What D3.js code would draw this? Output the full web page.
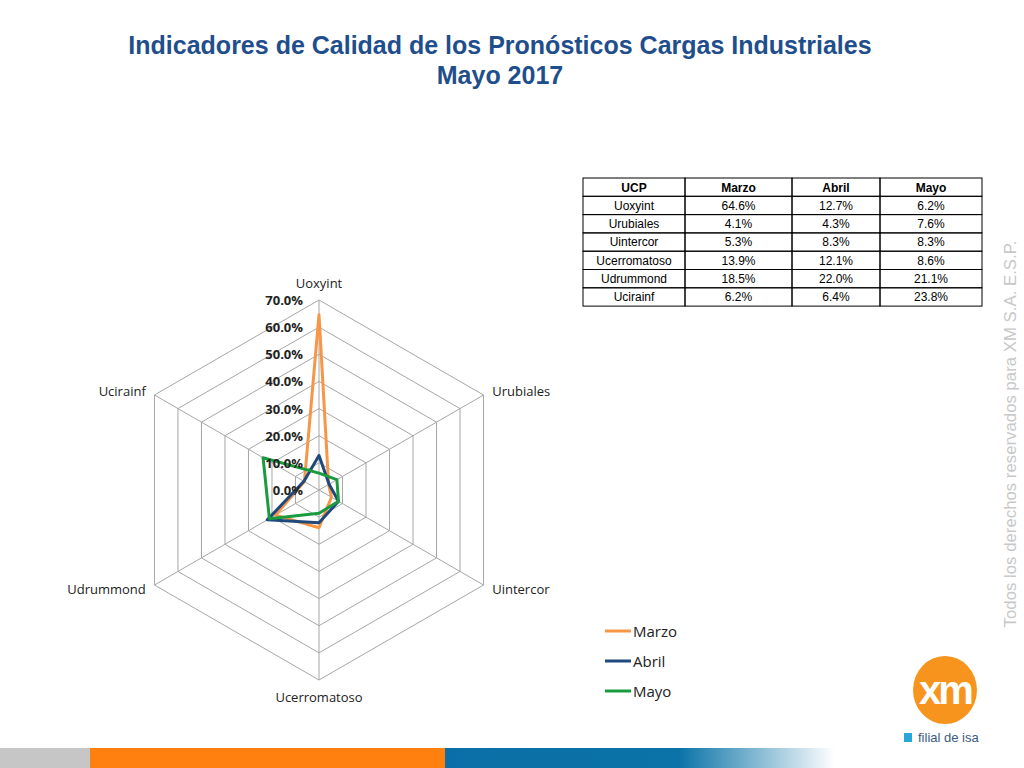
<!DOCTYPE html>
<html><head><meta charset="utf-8">
<script src="https://cdn.jsdelivr.net/npm/d3@7"></script>
<style>body{margin:0;background:#fff}svg{display:block}</style>
</head><body><div id="graphic"></div>
<script>
(function(d3){
  let width = 1024, height = 768;

  // Data
  let categories = ['Uoxyint', 'Urubiales', 'Uintercor', 'Ucerromatoso', 'Udrummond', 'Ucirainf'];
  let marzo = [0.646, 0.041, 0.053, 0.139, 0.185, 0.062];
  let abril = [0.127, 0.043, 0.083, 0.121, 0.220, 0.064];
  let mayo  = [0.062, 0.076, 0.083, 0.086, 0.211, 0.238];
  let seriesNames = ['Marzo', 'Abril', 'Mayo'];
  let seriesColors = ['#f79646', '#1f497d', '#1a9c3e'];
  let ticks = [0, 0.1, 0.2, 0.3, 0.4, 0.5, 0.6, 0.7];

  let allSeries = [marzo, abril, mayo];
  let svg = d3.select('#graphic').append('svg').attr('width', width).attr('height', height);

  // Title
  svg.append('text').attr('x', 500).attr('y', 54).attr('text-anchor', 'middle')
    .attr('font-family', 'Liberation Sans, Arial').attr('font-weight', 'bold').attr('font-size', 25)
    .attr('fill', '#1f4e8c').text('Indicadores de Calidad de los Pronósticos Cargas Industriales');
  svg.append('text').attr('x', 500).attr('y', 84).attr('text-anchor', 'middle')
    .attr('font-family', 'Liberation Sans, Arial').attr('font-weight', 'bold').attr('font-size', 25)
    .attr('fill', '#1f4e8c').text('Mayo 2017');

  // Radar
  let cx = 319, cy = 490;
  let r = d3.scaleLinear().domain([0, 0.7]).range([0, 190]);
  let angle = i => i * Math.PI / 3 - Math.PI / 2;
  let pt = (v, i) => [cx + r(v) * Math.cos(angle(i)), cy + r(v) * Math.sin(angle(i))];
  let g = svg.append('g');

  ticks.slice(1).forEach(t => {
    g.append('path').attr('d', d3.line()(categories.map((c, i) => pt(t, i))) + 'Z')
      .attr('fill', 'none').attr('stroke', '#a6a6a6').attr('stroke-width', 1);
  });
  categories.forEach((c, i) => {
    let p = pt(0.7, i);
    g.append('line').attr('x1', cx).attr('y1', cy).attr('x2', p[0]).attr('y2', p[1])
      .attr('stroke', '#a6a6a6');
    let dx = Math.cos(angle(i)), dy = Math.sin(angle(i));
    let anchor = Math.abs(dx) < 0.1 ? 'middle' : (dx > 0 ? 'start' : 'end');
    let oy = Math.abs(dx) < 0.1 ? dy * 17 : dy * 8;
    g.append('text').attr('x', p[0] + dx * 10).attr('y', p[1] + oy + 5)
      .attr('text-anchor', anchor).attr('font-family', 'Open Sans, Liberation Sans')
      .attr('font-size', 13).attr('fill', '#222').text(c);
  });

  allSeries.forEach((s, k) => {
    g.append('path').attr('d', d3.line()(s.map((v, i) => pt(v, i))) + 'Z')
      .attr('fill', 'none').attr('stroke', seriesColors[k]).attr('stroke-width', 3)
      .attr('stroke-linejoin', 'round');
  });

  ticks.forEach(t => {
    g.append('text').attr('x', cx - 16).attr('y', cy - r(t) + 5).attr('text-anchor', 'end')
      .attr('font-family', 'Open Sans, Liberation Sans').attr('font-weight', 'bold')
      .attr('font-size', 13).attr('fill', '#222').text(d3.format('.1%')(t));
  });

  // Legend
  seriesNames.forEach((n, k) => {
    let y = 631 + k * 30;
    svg.append('line').attr('x1', 605).attr('x2', 631).attr('y1', y).attr('y2', y)
      .attr('stroke', seriesColors[k]).attr('stroke-width', 3);
    svg.append('text').attr('x', 633).attr('y', y + 6).attr('font-family', 'Open Sans, Liberation Sans')
      .attr('font-size', 15).attr('fill', '#222').text(n);
  });

  // Table
  let colX = [583, 685, 792, 880, 982];
  let rowH = 18.3, ty = 178;
  let header = ['UCP', 'Marzo', 'Abril', 'Mayo'];
  let fmt = d3.format('.1%');
  let rows = [header].concat(categories.map((c, i) => [c, fmt(marzo[i]), fmt(abril[i]), fmt(mayo[i])]));
  rows.forEach((row, ri) => {
    row.forEach((cell, ci) => {
      svg.append('rect').attr('x', colX[ci]).attr('y', ty + ri * rowH)
        .attr('width', colX[ci + 1] - colX[ci]).attr('height', rowH)
        .attr('fill', 'none').attr('stroke', '#000').attr('stroke-width', 1);
      svg.append('text').attr('x', (colX[ci] + colX[ci + 1]) / 2).attr('y', ty + ri * rowH + 13.5)
        .attr('text-anchor', 'middle').attr('font-family', 'Liberation Sans, Arial')
        .attr('font-weight', ri === 0 ? 'bold' : 'normal').attr('font-size', 12)
        .attr('fill', '#000').text(cell);
    });
  });

  // Watermark
  svg.append('text').attr('transform', 'translate(1016,434) rotate(-90)').attr('text-anchor', 'middle')
    .attr('font-family', 'Liberation Sans, Arial').attr('font-size', 16.8).attr('fill', '#c8c8c8')
    .text('Todos los derechos reservados para XM S.A.  E.S.P.');

  // Logo
  svg.append('ellipse').attr('cx', 945).attr('cy', 690).attr('rx', 32).attr('ry', 34).attr('fill', '#f7941d');
  svg.append('text').attr('x', 945).attr('y', 704).attr('text-anchor', 'middle')
    .attr('font-family', 'Liberation Sans, Arial').attr('font-weight', 'bold').attr('font-size', 40)
    .attr('fill', '#fff').attr('letter-spacing', -3).text('xm');
  svg.append('rect').attr('x', 904).attr('y', 733).attr('width', 8).attr('height', 9).attr('fill', '#2aa7d8');
  svg.append('text').attr('x', 918).attr('y', 742).attr('font-family', 'Liberation Sans, Arial')
    .attr('font-size', 13).attr('fill', '#3a5a80').text('filial de isa');

  // Bottom bar
  let grad = svg.append('defs').append('linearGradient').attr('id', 'bg');
  grad.append('stop').attr('offset', '0%').attr('stop-color', '#0a6fa6');
  grad.append('stop').attr('offset', '60%').attr('stop-color', '#0b73a8');
  grad.append('stop').attr('offset', '100%').attr('stop-color', '#fff');
  svg.append('rect').attr('x', 0).attr('y', 748).attr('width', 90).attr('height', 20).attr('fill', '#c6c6c6');
  svg.append('rect').attr('x', 90).attr('y', 748).attr('width', 355).attr('height', 20).attr('fill', '#ff7f0f');
  svg.append('rect').attr('x', 445).attr('y', 748).attr('width', 390).attr('height', 20).attr('fill', 'url(#bg)');
})(window.d3);
</script></body></html>
